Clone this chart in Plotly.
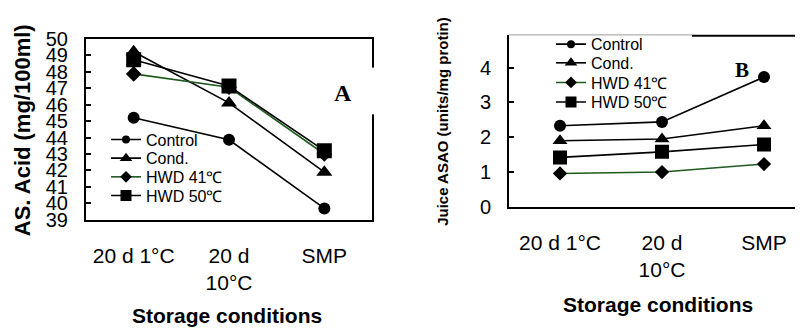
import plotly.graph_objects as go

# ---------------- data ----------------
categories = ["20 d 1°C", "20 d<br>10°C", "SMP"]
series_names = ["Control", "Cond.", "HWD 41℃", "HWD 50℃"]

acid_control = [45.2, 43.86, 39.7]
acid_cond = [49.2, 46.1, 41.9]
acid_hwd41 = [47.86, 47.05, 43.0]
acid_hwd50 = [48.72, 47.12, 43.2]

asao_control = [2.33, 2.44, 3.73]
asao_cond = [1.9, 1.95, 2.33]
asao_hwd41 = [0.96, 1.0, 1.23]
asao_hwd50 = [1.42, 1.58, 1.79]

acid_ticks = list(range(39, 51))
asao_ticks = [0, 1, 2, 3, 4]

# ---------------- styles ----------------
W, H = 803, 336
OFF = 8  # page body margin
FONT = "Arial, Liberation Sans, sans-serif"
SERIF = "Times New Roman, Liberation Serif, serif"
symbols = ["circle", "triangle-up", "diamond", "square"]
line_colors = ["black", "black", "#1f5a1f", "black"]
left_sizes = [12, 14, 12, 15]
right_sizes = [12, 13, 11, 14]
legend_sizes = [8, 11, 9, 11]
left_legend_rows = [137, 157, 177, 197]
right_legend_rows = [35, 55, 76, 97]


def px(x):
    return (x - OFF) / W


def py(y):
    return (H - (y - OFF)) / H


fig = go.Figure()

acid_series = [acid_control, acid_cond, acid_hwd41, acid_hwd50]
asao_series = [asao_control, asao_cond, asao_hwd41, asao_hwd50]

legend_layout = {}
for i, name in enumerate(series_names):
    fig.add_trace(go.Scatter(
        x=categories, y=acid_series[i], mode="lines+markers", name=name,
        xaxis="x", yaxis="y", showlegend=False,
        line=dict(color=line_colors[i], width=1.6),
        marker=dict(symbol=symbols[i], size=left_sizes[i], color="black")))
for i, name in enumerate(series_names):
    fig.add_trace(go.Scatter(
        x=categories, y=asao_series[i], mode="lines+markers", name=name,
        xaxis="x2", yaxis="y2", showlegend=False,
        line=dict(color=line_colors[i], width=1.6),
        marker=dict(symbol=symbols[i], size=right_sizes[i], color="black")))

# one single-entry legend per row, so row spacing matches the reference
k = 1
for panel, (xa, ya, x_left, rows) in enumerate([("x", "y", 106, left_legend_rows),
                                                ("x2", "y2", 551, right_legend_rows)]):
    for i, name in enumerate(series_names):
        lname = "legend" if k == 1 else f"legend{k}"
        fig.add_trace(go.Scatter(
            x=[None], y=[None], mode="lines+markers", name=name,
            xaxis=xa, yaxis=ya, legend=lname, showlegend=True,
            line=dict(color=line_colors[i], width=1.6),
            marker=dict(symbol=symbols[i], size=legend_sizes[i], color="black")))
        legend_layout[lname] = dict(
            x=px(x_left), y=py(rows[i]), xanchor="left", yanchor="middle",
            bgcolor="rgba(0,0,0,0)", borderwidth=0,
            font=dict(family=FONT, size=16, color="black"))
        k += 1

tickfont = dict(family=FONT, size=20, color="black")
xtickfont = dict(family=FONT, size=21, color="black")

# right panel: left edge at 509 px, 102 px per category, cropped by the window
right_x0 = 509
right_span = (W + OFF - right_x0) / 102.0

fig.update_layout(
    width=W, height=H,
    margin=dict(l=0, r=0, t=0, b=0),
    paper_bgcolor="white", plot_bgcolor="white",
    font=dict(family=FONT, color="black"),
    xaxis=dict(domain=[px(86), px(372)], type="category",
               categoryorder="array", categoryarray=categories,
               range=[-0.5, 2.5], showgrid=False, zeroline=False,
               showline=True, linecolor="black", linewidth=2, mirror=True,
               ticks="", tickfont=xtickfont, ticklabelstandoff=16,
               anchor="y"),
    yaxis=dict(domain=[py(223), py(29)], range=[39, 50],
               tickvals=acid_ticks, showgrid=False, zeroline=False,
               showline=True, linecolor="black", linewidth=2, mirror=True,
               ticks="inside", ticklen=5, tickcolor="black", tickwidth=1.5,
               tickfont=tickfont, ticklabelstandoff=12, anchor="x"),
    xaxis2=dict(domain=[px(right_x0), 1.0], type="category",
                categoryorder="array", categoryarray=categories,
                range=[-0.5, -0.5 + right_span], showgrid=False,
                zeroline=False, showline=True, linecolor="black",
                linewidth=2, ticks="", tickfont=xtickfont,
                ticklabelstandoff=16, anchor="y2"),
    yaxis2=dict(domain=[py(209), py(25)], range=[0, 4.94],
                tickvals=asao_ticks, showgrid=False, zeroline=False,
                showline=True, linecolor="black", linewidth=2,
                ticks="inside", ticklen=5, tickcolor="black", tickwidth=1.5,
                tickfont=tickfont, ticklabelstandoff=12, anchor="x2"),
    showlegend=True,
    **legend_layout,
)

annotations = [
    dict(text="<b>AS. Acid (mg/100ml)</b>", x=px(22), y=py(127),
         textangle=-90, font=dict(family=FONT, size=22, color="black")),
    dict(text="<b>Juice ASAO (units/mg protin)</b>", x=px(443), y=py(117),
         textangle=-90, font=dict(family=FONT, size=15, color="black")),
    dict(text="<b>Storage conditions</b>", x=px(227), y=py(325),
         font=dict(family=FONT, size=21, color="black")),
    dict(text="<b>Storage conditions</b>", x=px(658), y=py(313),
         font=dict(family=FONT, size=21, color="black")),
    dict(text="<b>A</b>", x=px(343), y=py(87),
         font=dict(family=SERIF, size=24, color="black")),
    dict(text="<b>B</b>", x=px(742), y=py(63),
         font=dict(family=SERIF, size=21, color="black")),
]
for a in annotations:
    a.update(xref="paper", yref="paper", showarrow=False,
             xanchor="center", yanchor="middle")
fig.update_layout(annotations=annotations)

shapes = [
    # white patch breaking the right frame of panel A
    dict(type="rect", xref="paper", yref="paper", x0=px(362), x1=px(382),
         y0=py(110), y1=py(60), fillcolor="white", line=dict(width=0),
         layer="above"),
    # top frame of panel B
    dict(type="line", xref="paper", yref="paper", x0=px(509), x1=px(692),
         y0=py(25), y1=py(25), line=dict(color="#9a9a9a", width=1)),
    dict(type="line", xref="paper", yref="paper", x0=px(692), x1=1.0,
         y0=py(26), y1=py(26), line=dict(color="black", width=2)),
]
fig.update_layout(shapes=shapes)

fig.write_html("out.html")
